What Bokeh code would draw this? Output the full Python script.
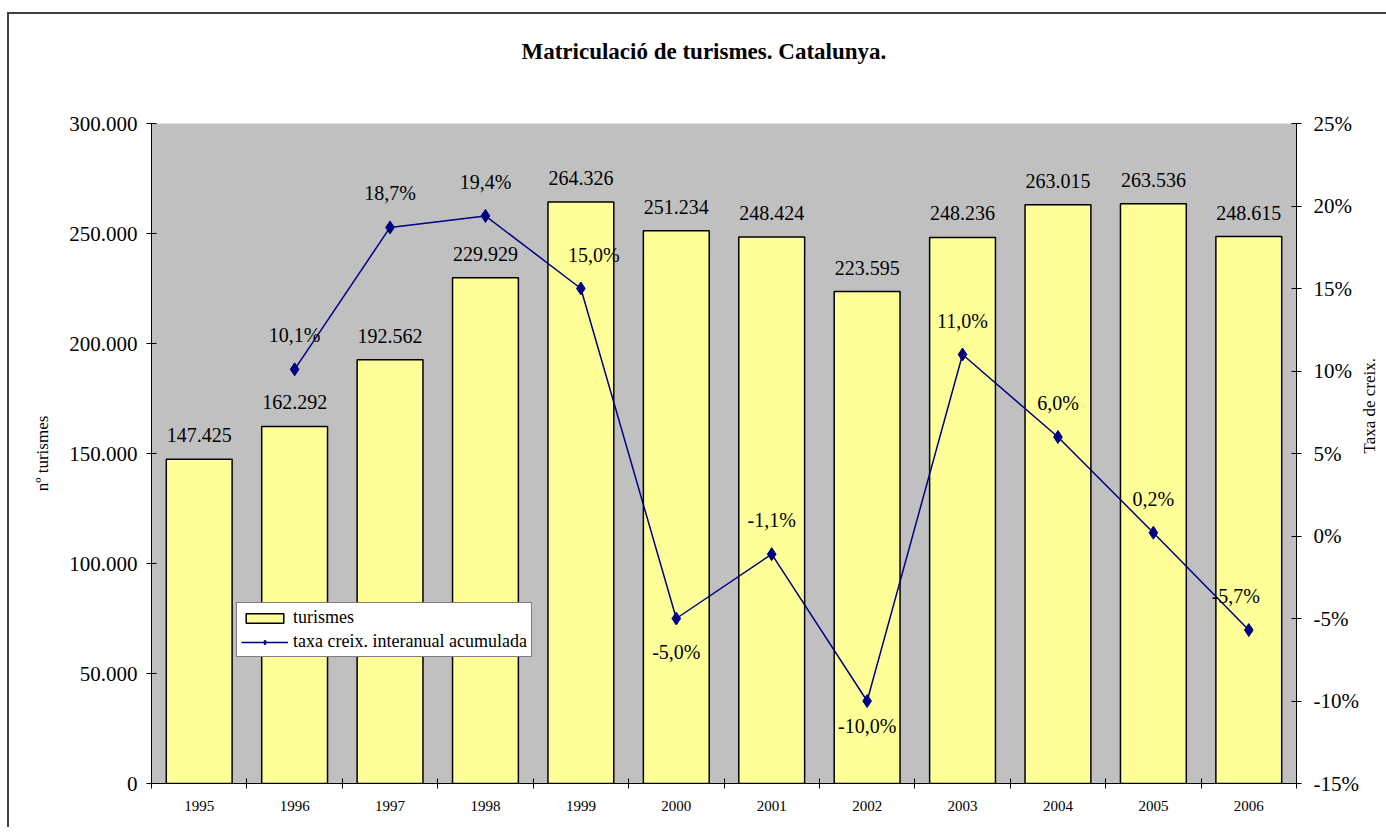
import math
from bokeh.plotting import figure
from bokeh.models import (Range1d, LinearAxis, FixedTicker, ColumnDataSource, Legend,
                          LegendItem, CustomJSTickFormatter, Title)
from bokeh.core.properties import value
from bokeh.embed import file_html
from bokeh.resources import INLINE

# ---- data ----
years = ["1995", "1996", "1997", "1998", "1999", "2000", "2001", "2002", "2003", "2004", "2005", "2006"]
turismes = [147425, 162292, 192562, 229929, 264326, 251234, 248424, 223595, 248236, 263015, 263536, 248615]
taxa = [None, 10.1, 18.7, 19.4, 15.0, -5.0, -1.1, -10.0, 11.0, 6.0, 0.2, -5.7]
left_ticks = [0, 50000, 100000, 150000, 200000, 250000, 300000]
right_ticks = [-15, -10, -5, 0, 5, 10, 15, 20, 25]

# label placement styles for the percentage labels (x offset px, y offset px)
pct_label_dx = [0, 0, 0, 0, 13, 0, 0, 0, 0, 0, 0, -13]
pct_label_dy = [-34, -34, -34, -34, -34, 33, -34, 25, -34, -34, -34, -34]

FONT = "Liberation Serif"

xc = [i + 0.5 for i in range(len(years))]
bar_src = ColumnDataSource(dict(
    x=xc, top=turismes,
    lab=[f"{v:,}".replace(",", ".") for v in turismes]))

lx, ly, llab, ldx, ldy = [], [], [], [], []
for i, t in enumerate(taxa):
    if t is None:
        continue
    lx.append(xc[i]); ly.append(t)
    llab.append(f"{t:.1f}".replace(".", ",") + "%")
    ldx.append(pct_label_dx[i]); ldy.append(pct_label_dy[i])
line_src = ColumnDataSource(dict(x=lx, y=ly, lab=llab, dx=ldx, dy=ldy))

p = figure(frame_width=1145, frame_height=660,
           min_border_left=142, min_border_right=86, min_border_top=109, min_border_bottom=44,
           x_range=Range1d(0, len(years)), y_range=Range1d(0, 300000),
           output_backend="svg", toolbar_location=None, x_axis_type=None, y_axis_type=None)
p.extra_y_ranges = {"pct": Range1d(-15, 25)}
p.styles = {"border-top": "2px solid #404040", "border-left": "2px solid #404040",
            "margin-top": "12px", "margin-left": "7px"}

p.background_fill_color = "#C0C0C0"
p.border_fill_color = "white"
p.outline_line_color = None
p.xgrid.visible = False
p.ygrid.visible = False

bars = p.vbar(x="x", top="top", width=0.69, fill_color="#FFFF99", line_color="black",
              line_width=1.5, source=bar_src)
ln = p.line(x="x", y="y", y_range_name="pct", line_color="#000080", line_width=1.5, source=line_src)
mk = p.scatter(x="x", y="y", y_range_name="pct", marker="diamond", size=13,
               fill_color="#000080", line_color="#000080", source=line_src)

p.text(x="x", y="top", text="lab", source=bar_src, text_align="center",
       text_baseline="alphabetic", y_offset=-24, text_font=value(FONT),
       text_font_size=value("20px"), text_color="black")
p.text(x="x", y="y", text="lab", source=line_src, y_range_name="pct", text_align="center",
       text_baseline="alphabetic", x_offset="dx", y_offset="dy", text_font=value(FONT),
       text_font_size=value("20px"), text_color="black")

# axes
def style_axis(ax, size):
    ax.axis_line_color = "black"
    ax.axis_line_width = 1
    ax.major_tick_line_color = "black"
    ax.major_tick_in = 5
    ax.major_tick_out = 5
    ax.minor_tick_line_color = None
    ax.major_label_text_font = FONT
    ax.major_label_text_font_size = size
    ax.major_label_text_color = "black"
    ax.major_label_standoff = 9
    ax.axis_label_text_font = FONT
    ax.axis_label_text_font_size = "17px"
    ax.axis_label_text_font_style = "normal"
    ax.axis_label_text_color = "black"

xaxis = LinearAxis(ticker=FixedTicker(ticks=xc, minor_ticks=list(range(len(years) + 1))),
                   formatter=CustomJSTickFormatter(args=dict(years=years),
                                                   code="return years[Math.floor(tick)] || ''"))
style_axis(xaxis, "15px")
xaxis.major_tick_line_color = None
xaxis.minor_tick_line_color = "black"
xaxis.minor_tick_in = 5
xaxis.minor_tick_out = 5
xaxis.major_label_standoff = 12
p.add_layout(xaxis, "below")

yaxis = LinearAxis(ticker=FixedTicker(ticks=left_ticks), axis_label="nº turismes",
                   major_label_overrides={t: f"{t:,}".replace(",", ".") for t in left_ticks})
style_axis(yaxis, "21px")
yaxis.axis_label_standoff = 14
p.add_layout(yaxis, "left")

raxis = LinearAxis(y_range_name="pct", ticker=FixedTicker(ticks=right_ticks),
                   major_label_overrides={t: f"{t}%" for t in right_ticks})
style_axis(raxis, "21px")
raxis.major_label_standoff = 12
p.add_layout(raxis, "right")

# second, bare right axis that only carries the upward-reading title
rtitle_axis = LinearAxis(y_range_name="pct", ticker=FixedTicker(ticks=[]), bounds=(-15, 21.4),
                         axis_label="Taxa de creix.")
style_axis(rtitle_axis, "1px")
rtitle_axis.axis_line_color = None
rtitle_axis.major_tick_line_color = None
rtitle_axis.major_tick_in = 0
rtitle_axis.major_tick_out = 0
rtitle_axis.major_label_standoff = 0
rtitle_axis.axis_label_standoff = 8
rtitle_axis.axis_label_orientation = math.pi / 2
p.add_layout(rtitle_axis, "right")

# spacer between frame and title
p.add_layout(Title(text=" ", text_font_size="10px", standoff=42), "above")

# title (outermost)
p.title.text = "Matriculació de turismes. Catalunya."
p.title.align = "left"
p.title.offset = 370
p.title.text_font = FONT
p.title.text_font_size = "23px"
p.title.text_font_style = "bold"
p.title.text_color = "black"
p.title.standoff = 10

legend = Legend(items=[LegendItem(label="turismes", renderers=[bars]),
                       LegendItem(label="taxa creix. interanual acumulada", renderers=[ln, mk])],
                location=(85, 126), border_line_color="black", border_line_width=1,
                background_fill_color="white", background_fill_alpha=1,
                label_text_font=FONT, label_text_font_size="18px", label_text_color="black",
                glyph_width=47, glyph_height=12, label_height=20, spacing=3, padding=4, margin=0,
                label_standoff=5)
p.add_layout(legend)

open("out.html", "w").write(file_html(p, INLINE))
